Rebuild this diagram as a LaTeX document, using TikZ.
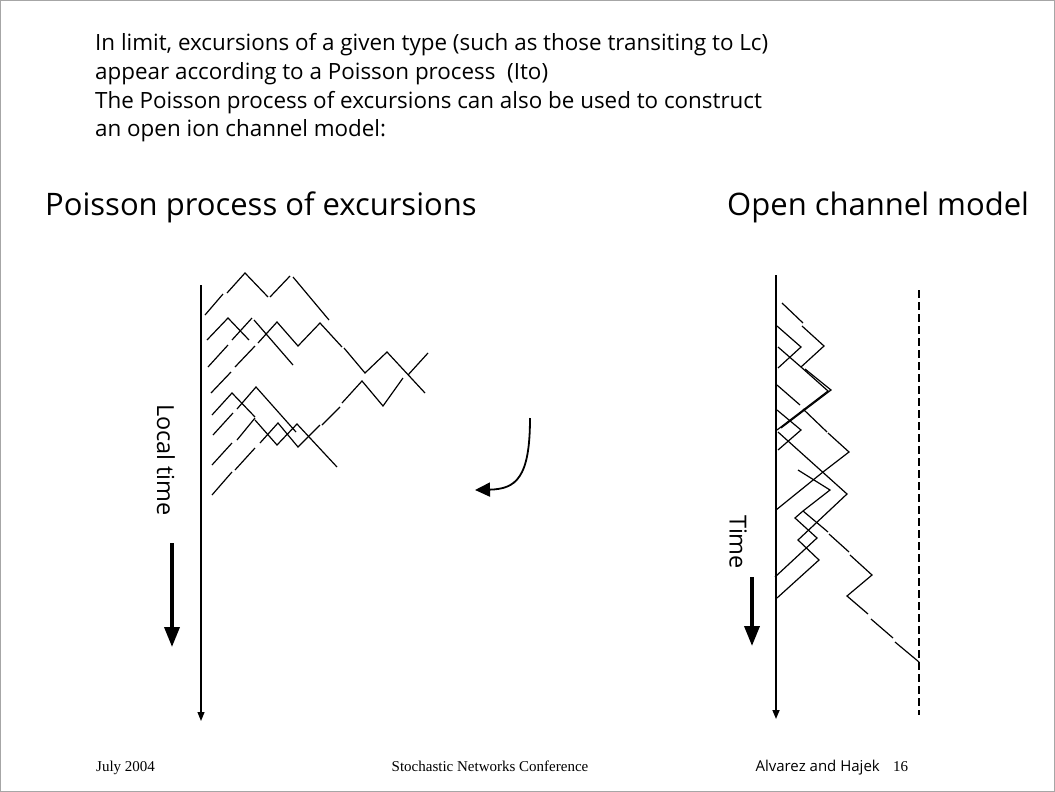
\documentclass[tikz,border=0pt]{standalone}
\usepackage{fontspec}
\setmainfont{Liberation Serif}
\newfontfamily\handfont{Open Sans}
\usetikzlibrary{arrows.meta}

\begin{document}
\begin{tikzpicture}[x=1pt,y=-1pt,
  bodytext/.style={anchor=west,inner sep=0pt,font=\handfont\fontsize{22.4}{26}\selectfont},
  headtext/.style={anchor=west,inner sep=0pt,font=\handfont\fontsize{31}{36}\selectfont},
  sidetext/.style={inner sep=0pt,rotate=-90,font=\handfont\fontsize{23.5}{27}\selectfont},
  foottext/.style={inner sep=0pt,anchor=base west,font=\fontsize{15}{18}\selectfont},
  axisline/.style={line width=1.1pt,-{Triangle[length=9pt,width=7pt]}},
  bigarrow/.style={line width=3.6pt,-{Triangle[length=20pt,width=15pt]}},
  walk/.style={line width=1.2pt},
  barrier/.style={line width=1.1pt,dash pattern=on 8pt off 4pt}]
\useasboundingbox (0,0) rectangle (1055,792);
\draw[gray!70,line width=1pt] (0.5,0.5) rectangle (1054.5,791.5);

% explanatory text
\node[bodytext] (t1) at (95,45) {In limit, excursions of a given type (such as those transiting to Lc)};
\node[bodytext] (t2) at (95,74) {appear according to a Poisson process\ \ (Ito)};
\node[bodytext] (t3) at (95,103) {The Poisson process of excursions can also be used to construct};
\node[bodytext] (t4) at (95,131) {an open ion channel model:};

% panel headings
\node[headtext] (h1) at (45,207) {Poisson process of excursions};
\node[headtext] (h2) at (727,207) {Open channel model};

% ---------- left panel: excursions indexed by local time ----------
\coordinate (la0) at (201,285);
\coordinate (la1) at (201,721);
\draw[axisline] (la0) -- (la1);
\node[sidetext] (lt) at (166,460) {Local time};
\coordinate (lb0) at (172,543);
\coordinate (lb1) at (172,647);
\draw[bigarrow] (lb0) -- (lb1);

\draw[walk] (205,315) -- (223,294);
\draw[walk] (227,293) -- (245,273) -- (268,297);
\draw[walk] (270,297) -- (290,276);
\draw[walk] (293,277) -- (329,320);
\draw[walk] (207,340) -- (228,318) -- (249,340);
\draw[walk] (232,340) -- (252,318);
\draw[walk] (254,320) -- (293,365);
\draw[walk] (208,367) -- (228,345);
\draw[walk] (235,367) -- (255,346);
\draw[walk] (258,343) -- (277,322) -- (298,346) -- (320,323) -- (342,347);
\draw[walk] (344,348) -- (365,373) -- (387,352) -- (425,393);
\draw[walk] (408,375) -- (428,353);
\draw[walk] (211,393) -- (231,372);
\draw[walk] (212,415) -- (232,393) -- (255,417);
\draw[walk] (237,409) -- (256,387) -- (296,432);
\draw[walk] (213,435) -- (233,413);
\draw[walk] (237,440) -- (255,418);
\draw[walk] (255,420) -- (277,445) -- (297,424) -- (337,467);
\draw[walk] (260,443) -- (278,423) -- (298,447) -- (320,425);
\draw[walk] (322,425) -- (340,407);
\draw[walk] (342,403) -- (362,381) -- (383,406) -- (403,378);
\draw[walk] (212,465) -- (232,443);
\draw[walk] (235,470) -- (255,448);
\draw[walk] (212,495) -- (232,472);

% curved arrow between the panels
\coordinate (ca0) at (530,418);
\coordinate (ca1) at (475,490);
\draw[line width=1.8pt,-{Triangle[length=15pt,width=14pt]}] (ca0) .. controls (530,478) and (516,489) .. (ca1);

% ---------- right panel: open channel model ----------
\coordinate (ra0) at (776,275);
\coordinate (ra1) at (776,719);
\draw[axisline,line width=1.6pt] (ra0) -- (ra1);
\coordinate (rd0) at (919,290);
\coordinate (rd1) at (919,715);
\draw[barrier] (rd0) -- (rd1);
\node[sidetext] (tm) at (738,542) {Time};
\coordinate (rb0) at (752,577);
\coordinate (rb1) at (752,646);
\draw[bigarrow] (rb0) -- (rb1);

\draw[walk] (782,303) -- (803,323);
\draw[walk] (802,326) -- (824,346) -- (801,367);
\draw[walk] (777,326) -- (801,347) -- (778,368);
\draw[walk] (778,347) -- (801,367) -- (828,391) -- (777,430);
\draw[walk] (805,369) -- (831,390) -- (781,428);
\draw[walk] (777,385) -- (800,405);
\draw[walk] (803,409) -- (827,432);
\draw[walk] (828,433) -- (849,452) -- (823,472) -- (776,510);
\draw[walk] (777,410) -- (801,430) -- (778,450);
\draw[walk] (778,432) -- (847,494) -- (798,540) -- (819,560) -- (777,598);
\draw[walk] (798,470) -- (830,490) -- (803,511) -- (795,518) -- (817,538) -- (775,577);
\draw[walk] (803,511) -- (828,532);
\draw[walk] (829,534) -- (849,552);
\draw[walk] (850,555) -- (872,575) -- (847,596) -- (868,614);
\draw[walk] (871,619) -- (893,638);
\draw[walk] (895,642) -- (919,662);

% footer
\node[foottext] (f1) at (96,771) {July 2004};
\node[foottext,anchor=base] (f2) at (490,771) {Stochastic Networks Conference};
\node[inner sep=0pt,anchor=base east,font=\handfont\fontsize{15}{18}\selectfont] (f3) at (880,771) {Alvarez and Hajek};
\node[foottext] (f4) at (893,771) {16};
\end{tikzpicture}
\end{document}
